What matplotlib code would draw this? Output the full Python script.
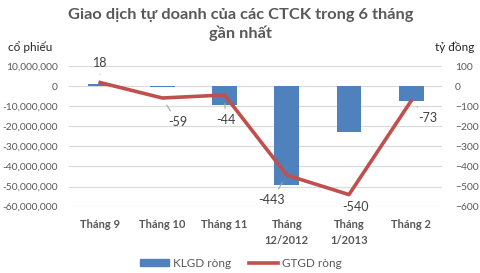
import numpy as np
import matplotlib.pyplot as plt
from matplotlib.lines import Line2D
from matplotlib.patches import Patch
from matplotlib.ticker import FuncFormatter

plt.rcParams['font.family'] = ['Lato', 'DejaVu Sans']

# ---------------------------------------------------------------------------
# data
# ---------------------------------------------------------------------------
months = ["Tháng 9", "Tháng 10", "Tháng 11", "Tháng\n12/2012", "Tháng\n1/2013", "Tháng 2"]
klgd = [1_000_000, -500_000, -9_200_000, -49_000_000, -23_000_000, -7_500_000]   # cổ phiếu
gtgd = [18, -59, -44, -443, -540, -73]                                            # tỷ đồng

# label offsets in pixels (dx, dy) and whether a leader line is drawn
lbl_off = [(0, 20), (15, -24), (1, -25), (-15, -25), (7, -12), (17, -17)]
lbl_lead = [True, True, True, True, False, True]

BLUE = "#4F81BD"
RED = "#C0504D"
GREY = "#595959"
GRID = "#D9D9D9"

fig = plt.figure(figsize=(4.81, 2.73), dpi=100)
ax1 = fig.add_axes([0.1435, 0.243, 0.776, 0.515])
ax2 = ax1.twinx()

x = np.arange(len(months))
ax1.bar(x, klgd, width=0.4, color=BLUE, zorder=2)
ax2.plot(x, gtgd, color=RED, lw=2.6, solid_joinstyle="round", zorder=3)

ax1.set_ylim(-60e6, 10e6)
ax1.set_yticks(np.arange(-60e6, 10e6 + 1, 10e6))
ax1.yaxis.set_major_formatter(FuncFormatter(lambda v, p: f"{int(v):,}"))
ax2.set_ylim(-600, 100)
ax2.set_yticks(np.arange(-600, 101, 100))
ax1.set_xlim(-0.5, len(months) - 0.5)

ax1.grid(axis="y", color=GRID, lw=0.8, zorder=0)
ax1.set_axisbelow(True)
for a in (ax1, ax2):
    for s in a.spines.values():
        s.set_visible(False)
    a.tick_params(length=0, colors=GREY, labelsize=7.4)

ax1.tick_params(axis="y", pad=8)
ax2.tick_params(axis="y", pad=9)
ax1.set_xticks(x)
ax1.set_xticklabels(months, fontweight="bold", fontsize=8, color=GREY,
                    linespacing=1.5)
ax1.tick_params(axis="x", pad=9)

for i, v in enumerate(gtgd):
    dx, dy = lbl_off[i]
    ap = dict(arrowstyle="-", color="#A6A6A6", lw=0.8, shrinkA=2, shrinkB=6) if lbl_lead[i] else None
    ax2.annotate(str(v), (x[i], v), xytext=(dx, dy), textcoords="offset pixels",
                 ha="center", va="center", fontsize=9, color="#404040",
                 arrowprops=ap, zorder=4)

fig.text(0.5, 0.91, "Giao dịch tự doanh của các CTCK trong 6 tháng\ngần nhất",
         ha="center", va="center", fontsize=11.8, fontweight="bold", color=GREY,
         linespacing=1.3)
fig.text(0.017, 0.828, "cổ phiếu", ha="left", va="center", fontsize=8.5, color="#262626")
fig.text(0.945, 0.828, "tỷ đồng", ha="center", va="center", fontsize=8.5, color="#262626")

handles = [Patch(color=BLUE, label="KLGD ròng"),
           Line2D([], [], color=RED, lw=2.6, label="GTGD ròng")]
leg = fig.legend(handles=handles, loc="center", bbox_to_anchor=(0.5, 0.035), ncol=2,
                 frameon=False, fontsize=8.5, handlelength=2.5, handleheight=0.5,
                 columnspacing=1.5, handletextpad=0.3)
for t in leg.get_texts():
    t.set_color(GREY)

fig.savefig("out.png", dpi=100)
